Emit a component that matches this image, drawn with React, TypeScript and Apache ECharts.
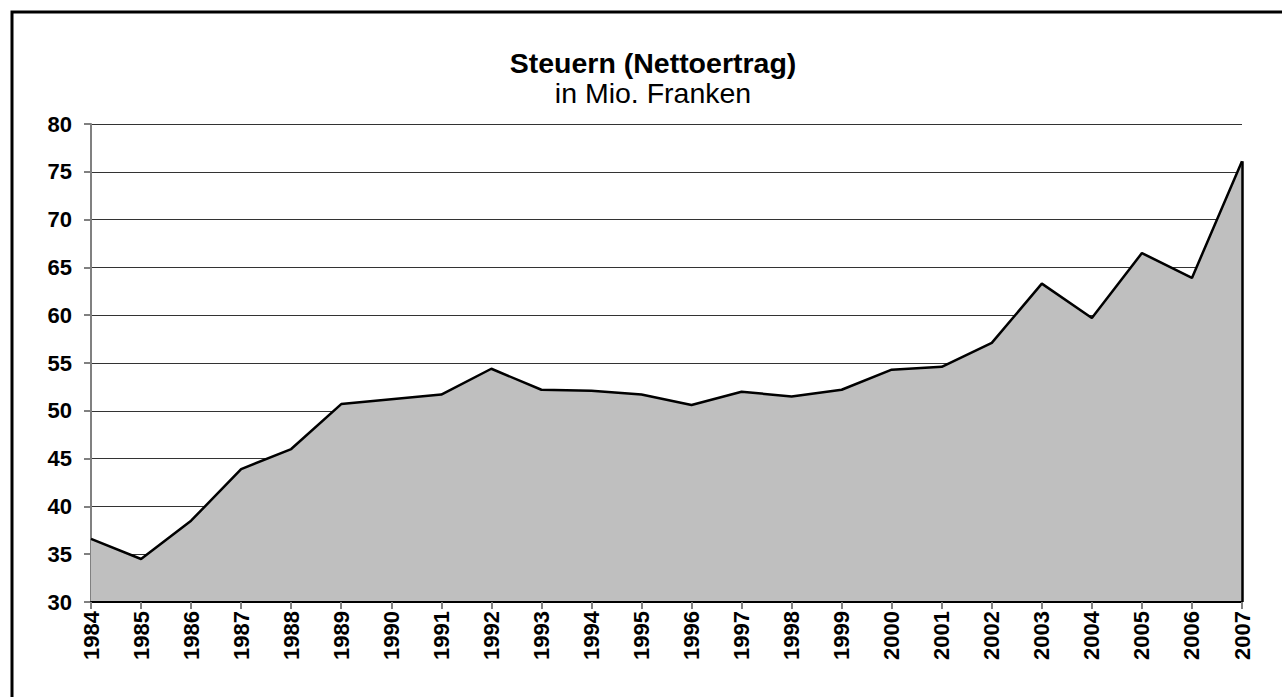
import React, { useEffect, useRef } from "react";
import * as echarts from "echarts";

const years: string[] = [
  "1984", "1985", "1986", "1987", "1988", "1989", "1990", "1991", "1992", "1993", "1994", "1995",
  "1996", "1997", "1998", "1999", "2000", "2001", "2002", "2003", "2004", "2005", "2006", "2007",
];
const steuern: number[] = [
  36.6, 34.5, 38.5, 43.9, 46.0, 50.7, 51.2, 51.7, 54.4, 52.2, 52.1, 51.7,
  50.6, 52.0, 51.5, 52.2, 54.3, 54.6, 57.1, 63.3, 59.7, 66.5, 63.9, 76.1,
];
const yMin = 30;
const yMax = 80;
const yStep = 5;
const titleText = "Steuern (Nettoertrag)";
const subtitleText = "in Mio. Franken";

const FONT = "'Liberation Sans', Arial, Helvetica, sans-serif";

export default function App() {
  const ref = useRef<HTMLDivElement>(null);
  useEffect(() => {
    if (!ref.current) return;
    const chart = echarts.init(ref.current, undefined, { renderer: "svg" });
    const last = years.length - 1;
    chart.setOption({
      animation: false,
      backgroundColor: "#ffffff",
      graphic: [
        {
          type: "rect",
          shape: { x: 12, y: 12, width: 1400, height: 800 },
          style: { fill: "none", stroke: "#000", lineWidth: 3 },
          silent: true,
        },
        {
          type: "text",
          x: 653,
          y: 63,
          style: {
            text: titleText,
            fontFamily: FONT,
            fontWeight: "bold",
            fontSize: 28.5,
            fill: "#000",
            align: "center",
            verticalAlign: "middle",
          },
        },
        {
          type: "text",
          x: 653,
          y: 93,
          style: {
            text: subtitleText,
            fontFamily: FONT,
            fontWeight: "normal",
            fontSize: 28.5,
            fill: "#000",
            align: "center",
            verticalAlign: "middle",
          },
        },
      ],
      grid: { left: 91, right: 40, top: 124, bottom: 95, containLabel: false },
      xAxis: {
        type: "category",
        data: years,
        boundaryGap: false,
        z: 3,
        axisLine: { show: true, lineStyle: { color: "#000", width: 2 } },
        axisTick: { show: true, alignWithLabel: true, length: 7, lineStyle: { color: "#808080", width: 2 } },
        axisLabel: {
          rotate: 90,
          margin: 9,
          interval: 0,
          color: "#000",
          fontFamily: FONT,
          fontWeight: "bold",
          fontSize: 22,
        },
        splitLine: { show: false },
      },
      yAxis: {
        type: "value",
        min: yMin,
        max: yMax,
        interval: yStep,
        axisLine: { show: true, lineStyle: { color: "#808080", width: 2 } },
        axisTick: { show: true, length: 7, lineStyle: { color: "#808080", width: 2 } },
        axisLabel: {
          margin: 19,
          color: "#000",
          fontFamily: FONT,
          fontWeight: "bold",
          fontSize: 22,
        },
        splitLine: { show: true, lineStyle: { color: "#333", width: 1 } },
      },
      series: [
        {
          type: "line",
          data: steuern,
          symbol: "none",
          lineStyle: { color: "#000", width: 2.5 },
          areaStyle: { color: "#bfbfbf", opacity: 1 },
          markLine: {
            silent: true,
            symbol: "none",
            label: { show: false },
            lineStyle: { color: "#000", width: 2.5, type: "solid" },
            data: [
              [
                { coord: [years[last], yMin] },
                { coord: [years[last], steuern[last]] },
              ],
            ],
          },
        },
      ],
    });
    return () => chart.dispose();
  }, []);
  return (
    <div
      ref={ref}
      style={{ position: "fixed", left: 0, top: 0, width: 1282, height: 697 }}
    />
  );
}
